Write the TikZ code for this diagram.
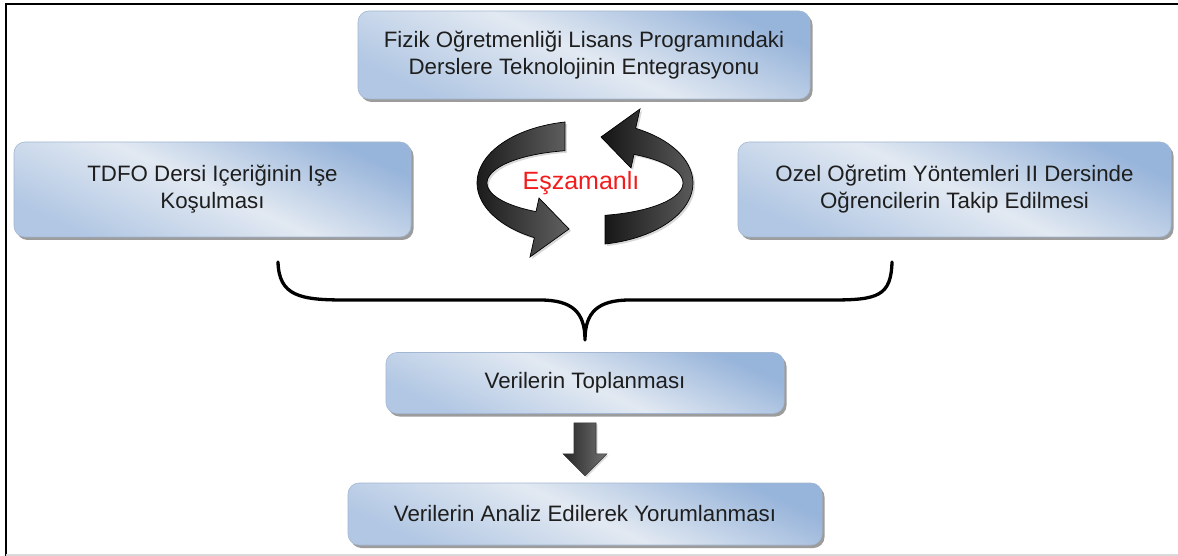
\documentclass[tikz,border=0pt]{standalone}
\usepackage{fontspec}
\setmainfont{Liberation Sans}
\usetikzlibrary{shadows}
\definecolor{boxblue}{HTML}{97B4DA}
\definecolor{boxlight}{HTML}{E2E9F2}
\definecolor{boxedge}{HTML}{A3B7D2}
\definecolor{txt}{HTML}{1E1E1E}
\definecolor{redtxt}{HTML}{F21C1C}
\begin{document}
\begin{tikzpicture}[x=1pt,y=-1pt,
  stagebox/.style={rounded corners=11pt, draw=boxedge, line width=0.6pt,
    top color=boxblue, bottom color=boxblue!75!white, middle color=boxlight,
    shading angle=-25, inner sep=0pt, align=center, text=txt,
    font=\fontsize{22.3}{27}\selectfont,
    drop shadow={shadow xshift=2.5pt, shadow yshift=-3pt, opacity=0.55, fill=black!70}},
  ribbon/.style={draw=black, line width=0.7pt, left color=black!92, right color=black!62,
    drop shadow={shadow xshift=2pt, shadow yshift=-2pt, opacity=0.3, fill=black!50}},
  bracepath/.style={line width=3.3pt, line cap=round, line join=round},
  downarrow/.style={draw=black!80, line width=0.6pt, left color=black!85, right color=black!55,
    drop shadow={shadow xshift=1.5pt, shadow yshift=-1.5pt, opacity=0.3, fill=black!50}}]
\useasboundingbox (0,0) rectangle (1178,556);
\fill[white] (0,0) rectangle (1178,556);

% frame
\draw[line width=2pt] (6,556) -- (6,4) -- (1178,4);
\draw[black!15, line width=1.5pt] (6,555) -- (1178,555);

% stages
\node[stagebox, minimum width=452pt, minimum height=88pt] (fizik) at (584,55)
  {Fizik Oğretmenliği Lisans Programındaki\\Derslere Teknolojinin Entegrasyonu};
\node[stagebox, minimum width=397pt, minimum height=95pt] (tdfo) at (212.5,189.5)
  {TDFO Dersi Içeriğinin Işe\\Koşulması};
\node[stagebox, minimum width=433pt, minimum height=95pt] (ozel) at (954.5,189.5)
  {Ozel Oğretim Yöntemleri II Dersinde\\Oğrencilerin Takip Edilmesi};
\node[stagebox, minimum width=398pt, minimum height=61pt] (topla) at (585,383)
  {Verilerin Toplanması};
\node[stagebox, minimum width=474pt, minimum height=62pt] (analiz) at (585,514)
  {Verilerin Analiz Edilerek Yorumlanması};

% circular arrows around the label
\path[ribbon] (565,122) arc[start angle=259.3, end angle=118, x radius=108, y radius=62]
  -- (530,257) -- (569,229) -- (539,198) -- (536,211.6)
  arc[start angle=120, end angle=258.2, x radius=98, y radius=33] -- cycle;
\begin{scope}[rotate around={180:(585,183)}]
\path[ribbon] (565,122) arc[start angle=259.3, end angle=118, x radius=108, y radius=62]
  -- (530,257) -- (569,229) -- (539,198) -- (536,211.6)
  arc[start angle=120, end angle=258.2, x radius=98, y radius=33] -- cycle;
\end{scope}
\node[text=redtxt, font=\fontsize{25}{28}\selectfont, inner sep=0pt] (esz) at (581,183) {Eşzamanlı};

% brace gathering the two parallel stages
\coordinate (bl) at (278,262);
\coordinate (br) at (892,262);
\coordinate (btip) at (585,340);
\draw[bracepath] (bl) .. controls (279,296) and (300,300) .. (345,300) -- (540,300)
  .. controls (572,300) and (585,312) .. (btip)
  .. controls (585,312) and (598,300) .. (630,300) -- (832,300)
  .. controls (878,300) and (891,296) .. (br);

% block arrow between the last two stages
\path[downarrow] (topla.south) ++(-11,9) -- ++(22,0) -- ++(0,31) -- ++(11,0)
  -- ++(-22,22) -- ++(-22,-22) -- ++(11,0) -- cycle;
\end{tikzpicture}
\end{document}
